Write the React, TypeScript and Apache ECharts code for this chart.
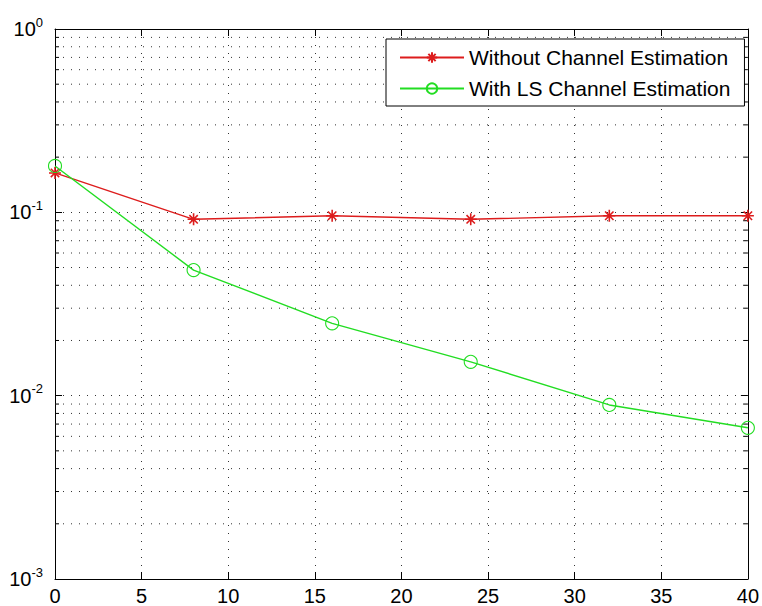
import React, { useEffect, useRef } from "react";
import * as echarts from "echarts";

const xValues = [0, 8, 16, 24, 32, 40];
const withoutCE = [0.164, 0.0916, 0.0958, 0.0916, 0.0958, 0.0958];
const withLS = [0.179, 0.0484, 0.0248, 0.0153, 0.0089, 0.00668];
const xTicks = [0, 5, 10, 15, 20, 25, 30, 35, 40];
const minorYTicks = [
  0.002, 0.003, 0.004, 0.005, 0.006, 0.007, 0.008, 0.009,
  0.02, 0.03, 0.04, 0.05, 0.06, 0.07, 0.08, 0.09,
  0.2, 0.3, 0.4, 0.5, 0.6, 0.7, 0.8, 0.9,
];

const FONT = "'Liberation Sans', Arial, sans-serif";
const RED = "#dd1c1c";
const GREEN = "#22dd22";
const DOT = [1, 7];
const GRIDCOLOR = "#333";

export default function App() {
  const ref = useRef<HTMLDivElement>(null);
  useEffect(() => {
    if (!ref.current) return;
    const chart = echarts.init(ref.current, null, { renderer: "svg" });
    const xMin = xTicks[0];
    const xMax = xTicks[xTicks.length - 1];
    const asterisk =
      "path://M5 0 L5 10 M0 5 L10 5 M1.5 1.5 L8.5 8.5 M8.5 1.5 L1.5 8.5";
    const option: any = {
      animation: false,
      backgroundColor: "#fff",
      textStyle: { fontFamily: FONT },
      grid: { left: 55, right: 9, top: 29, bottom: 27, containLabel: false },
      legend: {
        left: 386,
        top: 39,
        orient: "vertical",
        data: ["Without Channel Estimation", "With LS Channel Estimation"],
        backgroundColor: "#fff",
        borderColor: "#000",
        borderWidth: 1,
        borderRadius: 0,
        padding: [8, 14, 7, 13],
        itemGap: 10,
        itemWidth: 64,
        itemHeight: 13,
        textStyle: { fontSize: 21, color: "#000", fontFamily: FONT },
      },
      xAxis: [
        {
          type: "value",
          min: xMin,
          max: xMax,
          interval: 5,
          position: "bottom",
          axisLine: { show: true, onZero: false, lineStyle: { color: "#000", width: 1 } },
          axisTick: { show: true, inside: true, length: 7, lineStyle: { color: "#000" } },
          axisLabel: { fontSize: 20, color: "#000", margin: 7, fontFamily: FONT },
          splitLine: { show: true, lineStyle: { type: DOT, color: GRIDCOLOR, width: 1 } },
        },
        {
          type: "value",
          min: xMin,
          max: xMax,
          interval: 5,
          position: "top",
          axisLine: { show: true, onZero: false, lineStyle: { color: "#000", width: 1 } },
          axisTick: { show: true, inside: true, length: 7, lineStyle: { color: "#000" } },
          axisLabel: { show: false },
          splitLine: { show: false },
        },
      ],
      yAxis: [
        {
          type: "log",
          logBase: 10,
          min: 0.001,
          max: 1,
          splitNumber: 3,
          position: "left",
          axisLine: { show: true, onZero: false, lineStyle: { color: "#000", width: 1 } },
          axisTick: { show: true, inside: true, length: 7, lineStyle: { color: "#000" } },
          axisLabel: {
            margin: 12,
            color: "#000",
            formatter: (v: number) => `{b|10}{e|${Math.round(Math.log10(v))}}`,
            rich: {
              b: { fontSize: 20, fontFamily: FONT, color: "#000" },
              e: { fontSize: 13, fontFamily: FONT, color: "#000", padding: [0, 0, 14, 0] },
            },
          },
          splitLine: { show: true, lineStyle: { type: DOT, color: GRIDCOLOR, width: 1 } },
        },
        {
          type: "log",
          logBase: 10,
          min: 0.001,
          max: 1,
          splitNumber: 3,
          position: "right",
          axisLine: { show: true, onZero: false, lineStyle: { color: "#000", width: 1 } },
          axisTick: { show: true, inside: true, length: 7, lineStyle: { color: "#000" } },
          axisLabel: { show: false },
          splitLine: { show: false },
        },
      ],
      series: [
        {
          type: "custom",
          name: "minor",
          silent: true,
          clip: false,
          z: 1,
          data: minorYTicks.map((v) => [xMin, v]),
          renderItem: (params: any, api: any) => {
            const v = api.value(1);
            const p0 = api.coord([xMin, v]);
            const p1 = api.coord([xMax, v]);
            return {
              type: "group",
              children: [
                {
                  type: "line",
                  shape: { x1: p0[0], y1: p0[1], x2: p1[0], y2: p1[1] },
                  style: { stroke: GRIDCOLOR, lineWidth: 1, lineDash: DOT },
                },
                {
                  type: "line",
                  shape: { x1: p0[0], y1: p0[1], x2: p0[0] + 4, y2: p0[1] },
                  style: { stroke: "#000", lineWidth: 1 },
                },
                {
                  type: "line",
                  shape: { x1: p1[0] - 4, y1: p1[1], x2: p1[0], y2: p1[1] },
                  style: { stroke: "#000", lineWidth: 1 },
                },
              ],
            };
          },
        },
        {
          name: "Without Channel Estimation",
          type: "line",
          data: xValues.map((x, i) => [x, withoutCE[i]]),
          clip: false,
          z: 3,
          symbol: asterisk,
          symbolSize: 12,
          showAllSymbol: true,
          lineStyle: { color: RED, width: 1.4 },
          itemStyle: { color: "transparent", borderColor: RED, borderWidth: 1.6 },
        },
        {
          name: "With LS Channel Estimation",
          type: "line",
          data: xValues.map((x, i) => [x, withLS[i]]),
          clip: false,
          z: 4,
          symbol: "circle",
          symbolSize: 13,
          showAllSymbol: true,
          lineStyle: { color: GREEN, width: 1.4 },
          itemStyle: { color: "transparent", borderColor: GREEN, borderWidth: 1.1 },
        },
      ],
    };
    chart.setOption(option);
    return () => chart.dispose();
  }, []);
  return <div ref={ref} style={{ width: 762, height: 606, position: "absolute", left: 0, top: 0 }} />;
}
